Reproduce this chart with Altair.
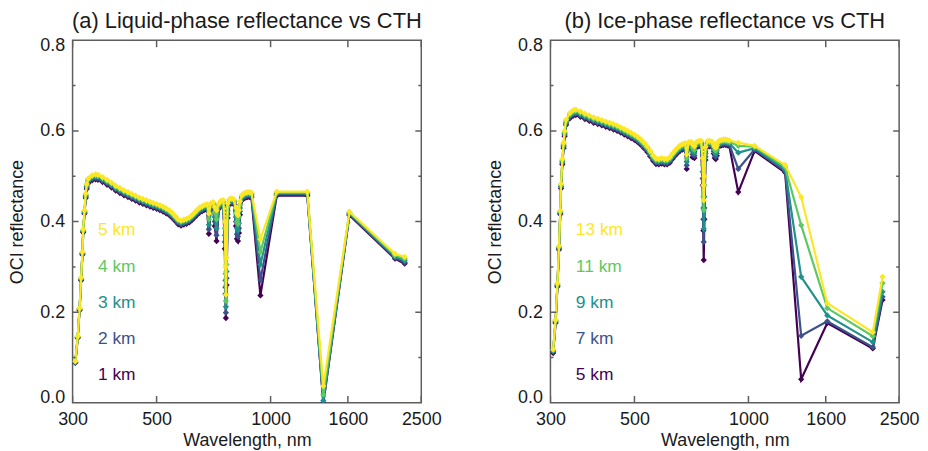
import altair as alt
import pandas as pd

# ---------------- data ----------------
WAVELENGTH = [305, 309.5, 313, 316, 318.5, 320, 322.5, 325, 327, 330,
              338, 345, 350, 360, 370, 380, 390, 400, 410, 420,
              430, 440, 450, 460, 470, 480, 490, 500, 510, 520,
              530, 540, 550, 560, 570, 580, 590, 600, 610, 620,
              630, 640, 650, 660, 670, 680, 687, 695, 705, 712,
              720, 730, 740, 750, 757, 760, 762, 765, 770, 780,
              790, 800, 810, 815, 820, 825, 830, 840, 850, 860,
              870, 880, 890, 940, 1038, 1250, 1378, 1615, 2130, 2260]

LIQ_1KM = [0.088, 0.143, 0.204, 0.270, 0.327, 0.376, 0.417, 0.452, 0.472, 0.484,
           0.491, 0.493, 0.492, 0.487, 0.481, 0.475, 0.468, 0.463, 0.458, 0.454,
           0.450, 0.446, 0.442, 0.439, 0.436, 0.433, 0.430, 0.428, 0.425, 0.422,
           0.418, 0.414, 0.408, 0.401, 0.394, 0.391, 0.393, 0.395, 0.398, 0.403,
           0.409, 0.415, 0.420, 0.423, 0.426, 0.427, 0.373, 0.429, 0.432, 0.390,
           0.357, 0.428, 0.435, 0.436, 0.340, 0.240, 0.187, 0.260, 0.408, 0.439,
           0.440, 0.438, 0.390, 0.362, 0.357, 0.375, 0.415, 0.447, 0.451, 0.453,
           0.454, 0.454, 0.453, 0.237, 0.457, 0.457, 0.000, 0.414, 0.318, 0.307]
LIQ_2KM = [0.089, 0.144, 0.206, 0.272, 0.329, 0.378, 0.419, 0.455, 0.475, 0.487,
           0.494, 0.496, 0.495, 0.490, 0.484, 0.478, 0.471, 0.466, 0.461, 0.457,
           0.453, 0.449, 0.445, 0.442, 0.439, 0.436, 0.433, 0.431, 0.428, 0.425,
           0.421, 0.417, 0.411, 0.404, 0.397, 0.394, 0.396, 0.398, 0.401, 0.406,
           0.412, 0.418, 0.423, 0.426, 0.429, 0.430, 0.383, 0.432, 0.435, 0.400,
           0.370, 0.431, 0.438, 0.439, 0.355, 0.255, 0.199, 0.275, 0.416, 0.442,
           0.443, 0.441, 0.400, 0.372, 0.367, 0.385, 0.423, 0.450, 0.454, 0.456,
           0.457, 0.457, 0.456, 0.271, 0.460, 0.460, 0.000, 0.416, 0.320, 0.310]
LIQ_3KM = [0.090, 0.145, 0.207, 0.273, 0.330, 0.379, 0.421, 0.457, 0.478, 0.490,
           0.497, 0.499, 0.498, 0.493, 0.487, 0.481, 0.474, 0.469, 0.464, 0.460,
           0.456, 0.452, 0.448, 0.445, 0.442, 0.439, 0.436, 0.434, 0.431, 0.428,
           0.424, 0.420, 0.414, 0.407, 0.400, 0.397, 0.399, 0.401, 0.404, 0.409,
           0.415, 0.421, 0.426, 0.429, 0.432, 0.433, 0.393, 0.435, 0.438, 0.410,
           0.385, 0.434, 0.441, 0.442, 0.370, 0.270, 0.212, 0.290, 0.424, 0.445,
           0.446, 0.444, 0.410, 0.385, 0.380, 0.396, 0.430, 0.453, 0.457, 0.459,
           0.460, 0.460, 0.459, 0.305, 0.462, 0.462, 0.005, 0.418, 0.323, 0.314]
LIQ_4KM = [0.091, 0.146, 0.208, 0.275, 0.332, 0.381, 0.423, 0.460, 0.481, 0.493,
           0.500, 0.502, 0.501, 0.496, 0.490, 0.484, 0.477, 0.472, 0.467, 0.463,
           0.459, 0.455, 0.451, 0.448, 0.445, 0.442, 0.439, 0.437, 0.434, 0.431,
           0.427, 0.423, 0.417, 0.410, 0.403, 0.400, 0.402, 0.404, 0.407, 0.412,
           0.418, 0.424, 0.429, 0.432, 0.435, 0.436, 0.405, 0.438, 0.441, 0.420,
           0.405, 0.437, 0.444, 0.445, 0.385, 0.285, 0.225, 0.305, 0.432, 0.448,
           0.449, 0.447, 0.420, 0.400, 0.395, 0.410, 0.437, 0.456, 0.460, 0.462,
           0.463, 0.463, 0.462, 0.333, 0.464, 0.464, 0.018, 0.420, 0.326, 0.318]
LIQ_5KM = [0.092, 0.147, 0.209, 0.276, 0.333, 0.383, 0.425, 0.462, 0.483, 0.495,
           0.502, 0.504, 0.503, 0.498, 0.492, 0.486, 0.479, 0.474, 0.469, 0.465,
           0.461, 0.457, 0.453, 0.450, 0.447, 0.444, 0.441, 0.439, 0.436, 0.433,
           0.429, 0.425, 0.419, 0.412, 0.405, 0.402, 0.404, 0.406, 0.409, 0.414,
           0.420, 0.426, 0.431, 0.434, 0.437, 0.438, 0.418, 0.440, 0.443, 0.432,
           0.425, 0.440, 0.446, 0.447, 0.400, 0.300, 0.239, 0.320, 0.440, 0.450,
           0.451, 0.449, 0.430, 0.418, 0.414, 0.425, 0.445, 0.458, 0.462, 0.464,
           0.465, 0.465, 0.464, 0.361, 0.466, 0.466, 0.037, 0.422, 0.329, 0.322]

ICE_5KM = [0.110, 0.176, 0.256, 0.338, 0.416, 0.473, 0.526, 0.562, 0.588, 0.613,
           0.628, 0.634, 0.635, 0.631, 0.626, 0.622, 0.618, 0.615, 0.612, 0.609,
           0.606, 0.603, 0.600, 0.596, 0.592, 0.588, 0.584, 0.580, 0.575, 0.569,
           0.562, 0.554, 0.544, 0.534, 0.527, 0.526, 0.528, 0.526, 0.526, 0.530,
           0.538, 0.545, 0.551, 0.556, 0.559, 0.561, 0.516, 0.563, 0.564, 0.542,
           0.540, 0.564, 0.566, 0.566, 0.480, 0.380, 0.315, 0.405, 0.536, 0.566,
           0.566, 0.565, 0.550, 0.540, 0.538, 0.545, 0.563, 0.567, 0.568, 0.569,
           0.569, 0.568, 0.567, 0.465, 0.556, 0.508, 0.052, 0.176, 0.120, 0.227]
ICE_7KM = [0.113, 0.178, 0.258, 0.340, 0.418, 0.476, 0.529, 0.565, 0.591, 0.616,
           0.631, 0.637, 0.638, 0.634, 0.629, 0.625, 0.621, 0.618, 0.615, 0.612,
           0.609, 0.606, 0.603, 0.599, 0.595, 0.591, 0.587, 0.583, 0.578, 0.572,
           0.565, 0.557, 0.547, 0.537, 0.530, 0.529, 0.531, 0.529, 0.529, 0.533,
           0.541, 0.548, 0.554, 0.559, 0.562, 0.564, 0.524, 0.566, 0.567, 0.548,
           0.545, 0.567, 0.569, 0.569, 0.495, 0.405, 0.355, 0.430, 0.543, 0.569,
           0.569, 0.568, 0.555, 0.545, 0.543, 0.550, 0.566, 0.570, 0.571, 0.572,
           0.572, 0.571, 0.570, 0.516, 0.559, 0.511, 0.148, 0.180, 0.123, 0.234]
ICE_9KM = [0.115, 0.180, 0.260, 0.342, 0.420, 0.478, 0.532, 0.568, 0.594, 0.619,
           0.634, 0.640, 0.641, 0.637, 0.632, 0.628, 0.624, 0.621, 0.618, 0.615,
           0.612, 0.609, 0.606, 0.602, 0.598, 0.594, 0.590, 0.586, 0.581, 0.575,
           0.568, 0.560, 0.550, 0.540, 0.533, 0.532, 0.534, 0.532, 0.532, 0.536,
           0.544, 0.551, 0.557, 0.562, 0.565, 0.567, 0.532, 0.569, 0.570, 0.555,
           0.551, 0.570, 0.572, 0.572, 0.510, 0.430, 0.384, 0.455, 0.550, 0.572,
           0.572, 0.571, 0.560, 0.551, 0.549, 0.556, 0.569, 0.573, 0.574, 0.575,
           0.575, 0.574, 0.573, 0.552, 0.562, 0.515, 0.278, 0.193, 0.134, 0.245]
ICE_11KM = [0.117, 0.182, 0.262, 0.344, 0.422, 0.481, 0.535, 0.571, 0.597, 0.622,
            0.637, 0.643, 0.644, 0.640, 0.635, 0.631, 0.627, 0.624, 0.621, 0.618,
            0.615, 0.612, 0.609, 0.605, 0.601, 0.597, 0.593, 0.589, 0.584, 0.578,
            0.571, 0.563, 0.553, 0.543, 0.536, 0.535, 0.537, 0.535, 0.535, 0.539,
            0.547, 0.554, 0.560, 0.565, 0.568, 0.570, 0.540, 0.572, 0.573, 0.562,
            0.558, 0.573, 0.575, 0.575, 0.525, 0.455, 0.425, 0.480, 0.558, 0.575,
            0.575, 0.574, 0.565, 0.558, 0.556, 0.562, 0.572, 0.576, 0.577, 0.578,
            0.578, 0.577, 0.576, 0.567, 0.565, 0.520, 0.392, 0.209, 0.147, 0.264]
ICE_13KM = [0.118, 0.183, 0.264, 0.346, 0.424, 0.483, 0.538, 0.574, 0.600, 0.625,
            0.640, 0.646, 0.647, 0.643, 0.638, 0.634, 0.630, 0.627, 0.624, 0.621,
            0.618, 0.615, 0.612, 0.608, 0.604, 0.600, 0.596, 0.592, 0.587, 0.581,
            0.574, 0.566, 0.556, 0.546, 0.539, 0.538, 0.540, 0.538, 0.538, 0.542,
            0.550, 0.557, 0.563, 0.568, 0.571, 0.573, 0.548, 0.575, 0.576, 0.570,
            0.566, 0.576, 0.578, 0.578, 0.540, 0.480, 0.447, 0.500, 0.565, 0.578,
            0.578, 0.577, 0.570, 0.565, 0.563, 0.568, 0.575, 0.579, 0.580, 0.581,
            0.581, 0.580, 0.579, 0.574, 0.567, 0.525, 0.454, 0.220, 0.156, 0.278]

LIQ_NAMES = ["1 km", "2 km", "3 km", "4 km", "5 km"]
ICE_NAMES = ["5 km", "7 km", "9 km", "11 km", "13 km"]
COLORS = ["#440154", "#3b528b", "#21918c", "#5ec962", "#fde725"]
LABEL_Y = [0.061, 0.141, 0.221, 0.300, 0.381]
LABEL_X = 350

X_DOMAIN = [300, 2500]
X_TICKS = [300, 500, 1000, 1600, 2500]
Y_DOMAIN = [0, 0.8]
Y_MAJOR = [0.0, 0.2, 0.4, 0.6, 0.8]
Y_MINOR = [0.1, 0.3, 0.5, 0.7]

TITLE_A = "(a) Liquid-phase reflectance vs CTH"
TITLE_B = "(b) Ice-phase reflectance vs CTH"
X_TITLE = "Wavelength, nm"
Y_TITLE = "OCI reflectance"

# ---------------- styling ----------------
FONT = "Liberation Sans"
FRAME = "#5e5e5e"
TEXT = "#1a1a1a"
W, H = 351, 365
YMAJ_LEN, YMIN_LEN, XTICK_LEN = 12, 6, 14   # full lengths; half shows inside the frame

xscale = alt.Scale(type="log", domain=X_DOMAIN, nice=False)
yscale = alt.Scale(domain=Y_DOMAIN, nice=False, zero=False)


def xq(axis=None):
    return alt.X("wl:Q", scale=xscale, axis=axis)


def yq(axis=None):
    return alt.Y("refl:Q", scale=yscale, axis=axis)


def tick_layers():
    out = []
    ys = Y_MAJOR + Y_MINOR
    lens = [YMAJ_LEN] * len(Y_MAJOR) + [YMIN_LEN] * len(Y_MINOR)
    for edge in X_DOMAIN:
        df = pd.DataFrame({"wl": [edge] * len(ys), "refl": ys, "len": lens})
        out.append(alt.Chart(df).mark_tick(orient="horizontal", thickness=1.5, color=FRAME,
                                           opacity=1, clip=True).encode(
            x=xq(), y=yq(), size=alt.Size("len:Q", scale=None)))
    for edge in Y_DOMAIN:
        df = pd.DataFrame({"wl": X_TICKS, "refl": [edge] * len(X_TICKS),
                           "len": [XTICK_LEN] * len(X_TICKS)})
        out.append(alt.Chart(df).mark_tick(orient="vertical", thickness=1.5, color=FRAME,
                                           opacity=1, clip=True).encode(
            x=xq(), y=yq(), size=alt.Size("len:Q", scale=None)))
    return out


def panel(series, names, title):
    xa = alt.Axis(values=X_TICKS, orient="bottom", ticks=False, tickSize=0, domain=False,
                  grid=False, labelFont=FONT, labelFontSize=18, labelColor=TEXT,
                  labelPadding=8, labelFlush=False, labelOverlap=False, format="d",
                  title=X_TITLE, titleFont=FONT, titleFontSize=18, titleFontWeight="normal",
                  titleColor=TEXT, titlePadding=3)
    ya = alt.Axis(values=Y_MAJOR, orient="left", ticks=False, tickSize=0, domain=False,
                  grid=False, format=".1f", labelFont=FONT, labelFontSize=18, labelColor=TEXT,
                  labelPadding=8, labelFlush=True, labelFlushOffset=4, labelOverlap=False,
                  title=Y_TITLE, titleFont=FONT, titleFontSize=18, titleFontWeight="normal",
                  titleColor=TEXT, titlePadding=13)
    axdf = pd.DataFrame({"wl": X_DOMAIN, "refl": Y_DOMAIN})
    layers = [alt.Chart(axdf).mark_point(opacity=0, size=1).encode(x=xq(xa), y=yq(ya))]

    for vals, col in zip(series, COLORS):
        df = pd.DataFrame({"wl": WAVELENGTH, "refl": vals})
        base = alt.Chart(df).encode(x=xq(), y=yq())
        layers.append(base.mark_line(color=col, strokeWidth=2.2, clip=True))
        layers.append(base.mark_point(shape="diamond", filled=True, size=40, color=col,
                                      opacity=1, clip=True))
    lab = pd.DataFrame({"wl": [LABEL_X] * len(names), "refl": LABEL_Y,
                        "txt": names, "col": COLORS})
    layers.append(alt.Chart(lab).mark_text(align="left", baseline="middle", font=FONT,
                                           fontSize=17.5).encode(
        x=xq(), y=yq(), text="txt:N", color=alt.Color("col:N", scale=None)))
    layers += tick_layers()

    return alt.layer(*layers).resolve_axis(x="independent", y="independent").properties(
        width=W, height=H,
        title=alt.TitleParams(title, font=FONT, fontSize=22, fontWeight="normal", color=TEXT,
                              anchor="middle", frame="group", offset=3),
    )


pa = panel([LIQ_1KM, LIQ_2KM, LIQ_3KM, LIQ_4KM, LIQ_5KM], LIQ_NAMES, TITLE_A)
pb = panel([ICE_5KM, ICE_7KM, ICE_9KM, ICE_11KM, ICE_13KM], ICE_NAMES, TITLE_B)

chart = alt.hconcat(pa, pb, spacing=44).properties(
    padding={"left": 0, "top": 0, "right": 0, "bottom": 0},
    background="white",
).configure_view(stroke=FRAME, strokeWidth=1.5)

chart.save("out.html", embed_options={"renderer": "svg", "actions": False})
